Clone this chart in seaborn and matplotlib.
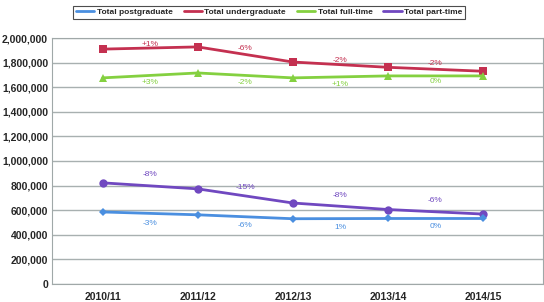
import numpy as np
import pandas as pd
import seaborn as sns
import matplotlib
matplotlib.use('Agg')
import matplotlib.pyplot as plt

years = ['2010/11', '2011/12', '2012/13', '2013/14', '2014/15']
postgrad = [585000, 562000, 530000, 532000, 532000]
undergrad = [1910000, 1928000, 1805000, 1762000, 1730000]
fulltime = [1676000, 1716000, 1676000, 1692000, 1692000]
parttime = [822000, 773000, 658000, 605000, 568000]

pg_pct = ['-3%', '-6%', '1%', '0%']
ug_pct = ['+1%', '-6%', '-2%', '-2%']
ft_pct = ['+3%', '-2%', '+1%', '0%']
pt_pct = ['-8%', '-15%', '-8%', '-6%']

df = pd.DataFrame({'year': years, 'Total postgraduate': postgrad,
                   'Total undergraduate': undergrad,
                   'Total full-time': fulltime, 'Total part-time': parttime})
long = df.melt(id_vars='year', var_name='series', value_name='value')
long['x'] = long['year'].map({y: i for i, y in enumerate(years)})

sns.set_style('white')
plt.rcParams['font.family'] = ['Liberation Sans', 'DejaVu Sans']

colors = {'Total postgraduate': '#4a8fe0', 'Total undergraduate': '#c43050',
          'Total full-time': '#84d040', 'Total part-time': '#7048c0'}
markers = {'Total postgraduate': 'D', 'Total undergraduate': 's',
           'Total full-time': '^', 'Total part-time': 'o'}

fig, ax = plt.subplots(figsize=(5.44, 3.02), dpi=100)
fig.subplots_adjust(left=0.096, right=0.998, top=0.874, bottom=0.06)

sns.lineplot(data=long[long['series'] != 'Total postgraduate'], x='x', y='value',
             hue='series', style='series', palette=colors, markers=markers,
             dashes=False, ax=ax, linewidth=2, markersize=6,
             markeredgewidth=0, legend=False)
sns.lineplot(data=long[long['series'] == 'Total postgraduate'], x='x', y='value',
             color=colors['Total postgraduate'], marker='D', ax=ax,
             linewidth=2, markersize=4, markeredgewidth=0, legend=False)

# percentage labels between points
def pct_labels(vals, labels, offsets, color):
    for i, lab in enumerate(labels):
        mid = (vals[i] + vals[i + 1]) / 2
        ax.text(i + 0.5, mid + offsets[i], lab, ha='center', va='center',
                fontsize=6, color=color)

pct_labels(undergrad, ug_pct, [25000, 50000, 35000, 50000], '#c43050')
pct_labels(fulltime, ft_pct, [-60000, -60000, -60000, -45000], '#84d040')
pct_labels(parttime, pt_pct, [95000, 70000, 90000, 95000], '#7048c0')
pct_labels(postgrad, pg_pct, [-80000, -75000, -75000, -65000], '#4a8fe0')

ax.set_xlim(-0.53, 4.63)
ax.set_ylim(0, 2000000)
ax.set_xticks(range(len(years)))
ax.set_xticklabels(years, fontweight='bold', fontsize=7.5)
ax.set_yticks(np.arange(0, 2000001, 200000))
ax.set_yticklabels([f'{v:,}' for v in np.arange(0, 2000001, 200000)],
                   fontweight='bold', fontsize=7.5)
ax.yaxis.grid(True, color='#a8b0b0', linewidth=1)
ax.set_xlabel('')
ax.set_ylabel('')
for s in ax.spines.values():
    s.set_color('#a0a8a8')
ax.tick_params(axis='x', length=3, color='#a0a8a8', pad=3)
ax.tick_params(axis='y', length=0, pad=3)

handles = [plt.Line2D([], [], color=colors[n], linewidth=2) for n in colors]
leg = fig.legend(handles, list(colors), loc='upper center',
                 bbox_to_anchor=(0.495, 0.995),
                 ncol=4, frameon=True, fancybox=False,
                 handlelength=2.2, handletextpad=0.3, columnspacing=1.3,
                 borderpad=0.3, prop={'weight': 'bold', 'size': 6})
leg.get_frame().set_edgecolor('#202020')
leg.get_frame().set_linewidth(0.8)

plt.savefig('out.png', dpi=100)
